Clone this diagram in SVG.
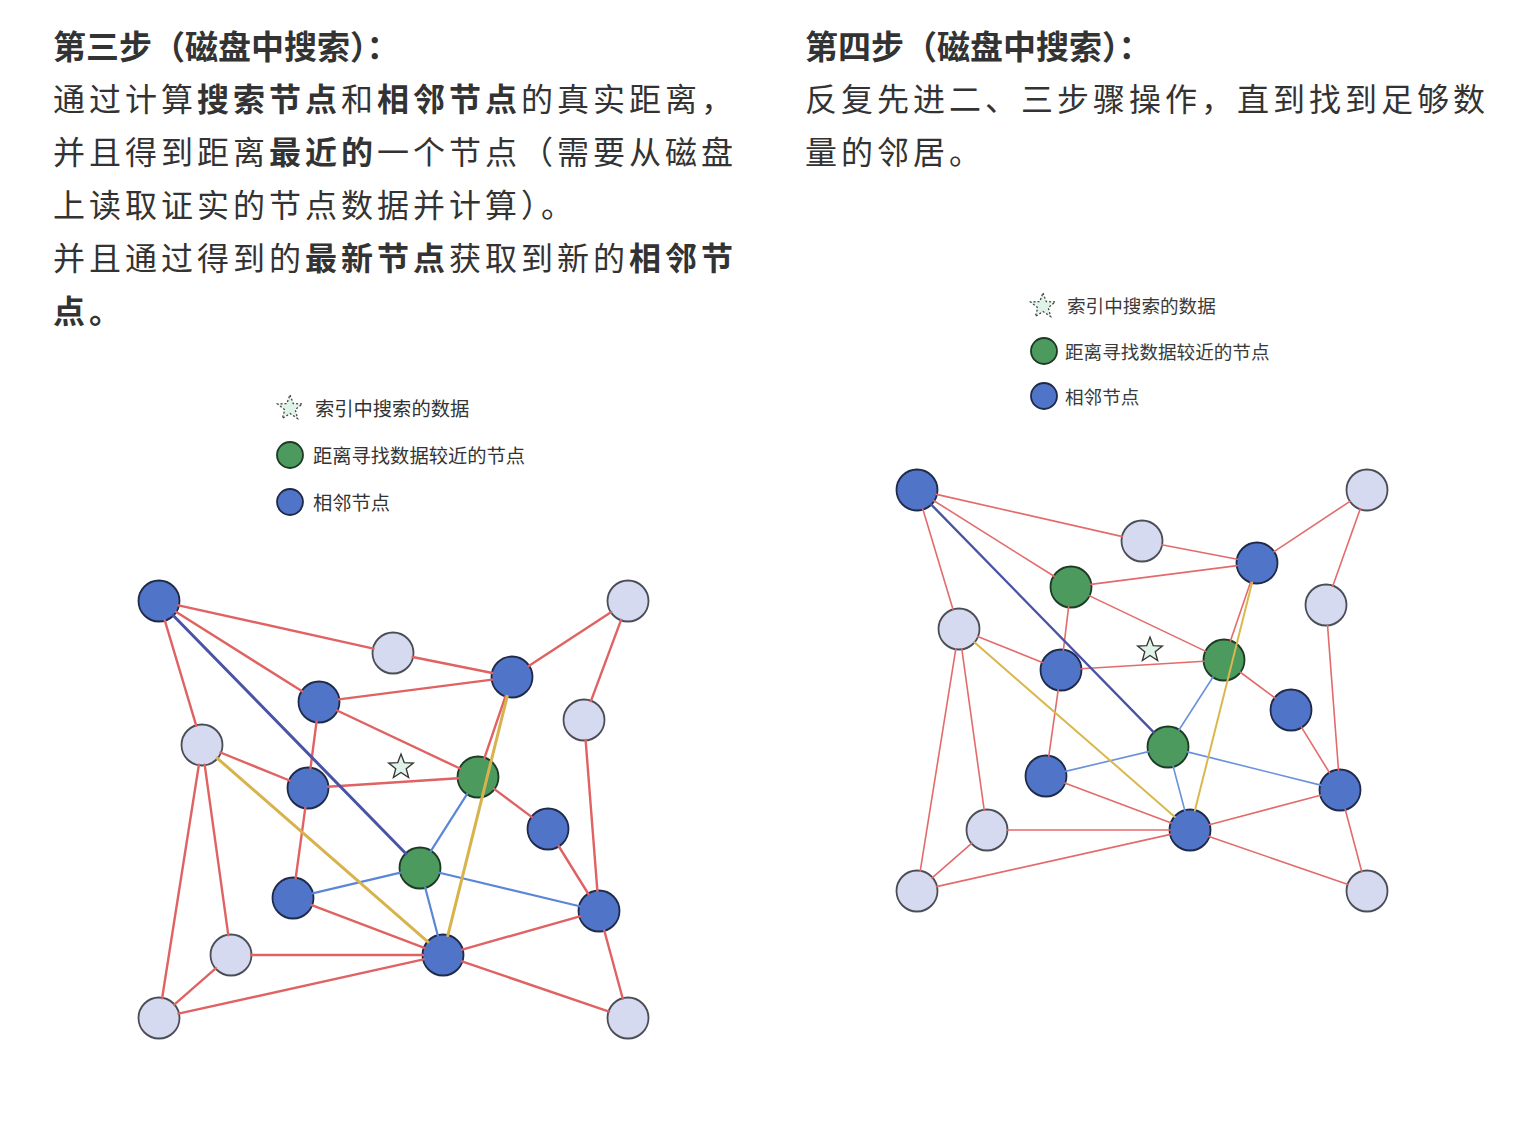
<svg xmlns="http://www.w3.org/2000/svg" width="1515" height="1126" viewBox="0 0 1515 1126">
<style>
.t{font-family:"Noto Sans CJK SC","Noto Sans",sans-serif;fill:#333}
.h{font-size:33px;font-weight:bold}
.b{font-size:32px;letter-spacing:4px}
.b tspan.k{font-weight:bold}
.lg{font-family:"Noto Sans CJK SC","Noto Sans",sans-serif;fill:#333;font-size:19.3px}
.lr{font-family:"Noto Sans CJK SC","Noto Sans",sans-serif;fill:#3a3a3a;font-size:18.6px}
.nb{fill:#4f74c8;stroke:#1e2a48;stroke-width:1.8}
.nl{fill:#d5daf0;stroke:#4a4d55;stroke-width:1.8}
.ng{fill:#4c9a5e;stroke:#1d3a25;stroke-width:1.8}
.st{fill:#e0f3e8;stroke:#333;stroke-width:1.3}
.sd{fill:#e0f3e8;stroke:#444;stroke-width:1.3;stroke-dasharray:2 2}
.L .r{stroke:#e06262;stroke-width:2.4}
.L .u{stroke:#5a86d8;stroke-width:2.2}
.L .n{stroke:#4a54a4;stroke-width:3}
.L .y{stroke:#d8b24c;stroke-width:3}
.R .r{stroke:#e36b6b;stroke-width:1.6}
.R .u{stroke:#6a92dc;stroke-width:1.6}
.R .n{stroke:#4a54a4;stroke-width:2.4}
.R .y{stroke:#d9b84e;stroke-width:2}
line{fill:none;stroke-linecap:round}
</style>
<defs>
<path id="star" d="M0,-13 L3.23,-4.45 L12.36,-4.02 L5.23,1.7 L7.64,10.52 L0,5.5 L-7.64,10.52 L-5.23,1.7 L-12.36,-4.02 L-3.23,-4.45 Z"/>
</defs>
<rect width="1515" height="1126" fill="#ffffff"/>

<g id="text-left">
<text class="t h" x="53" y="59">第三步（磁盘中搜索）：</text>
<text class="t b" x="53" y="111">通过计算<tspan class="k">搜索节点</tspan>和<tspan class="k">相邻节点</tspan>的真实距离，</text>
<text class="t b" x="53" y="164">并且得到距离<tspan class="k">最近的</tspan>一个节点（需要从磁盘</text>
<text class="t b" x="53" y="217">上读取证实的节点数据并计算）。</text>
<text class="t b" x="53" y="270">并且通过得到的<tspan class="k">最新节点</tspan>获取到新的<tspan class="k">相邻节</tspan></text>
<text class="t b" x="53" y="323"><tspan class="k">点。</tspan></text>
</g>
<g id="text-right">
<text class="t h" x="805" y="59">第四步（磁盘中搜索）：</text>
<text class="t b" x="805" y="111">反复先进二、三步骤操作，直到找到足够数</text>
<text class="t b" x="805" y="164">量的邻居。</text>
</g>

<g id="legend-left">
<use href="#star" class="sd" transform="translate(290,408)"/>
<text class="lg" x="315" y="416">索引中搜索的数据</text>
<circle class="ng" cx="290" cy="455" r="13"/>
<text class="lg" x="313" y="463">距离寻找数据较近的节点</text>
<circle class="nb" cx="290" cy="502" r="13"/>
<text class="lg" x="313" y="510">相邻节点</text>
</g>
<g id="legend-right">
<use href="#star" class="sd" transform="translate(1043,306)"/>
<text class="lr" x="1067" y="313">索引中搜索的数据</text>
<circle class="ng" cx="1044" cy="351" r="13"/>
<text class="lr" x="1065" y="359">距离寻找数据较近的节点</text>
<circle class="nb" cx="1044" cy="396" r="13"/>
<text class="lr" x="1065" y="404">相邻节点</text>
</g>

<g id="nodes-left">
<g id="L-A"><circle class="nb" cx="159" cy="601" r="20.5"/></g>
<g id="L-B"><circle class="nl" cx="628" cy="601" r="20.5"/></g>
<g id="L-C"><circle class="nl" cx="393" cy="653" r="20.5"/></g>
<g id="L-D"><circle class="nb" cx="512" cy="677" r="20.5"/></g>
<g id="L-E"><circle class="nb" cx="319" cy="702" r="20.5"/></g>
<g id="L-F"><circle class="nl" cx="584" cy="720" r="20.5"/></g>
<g id="L-G"><circle class="nl" cx="202" cy="745" r="20.5"/></g>
<g id="L-H"><circle class="nb" cx="308" cy="788" r="20.5"/></g>
<g id="L-I"><circle class="ng" cx="478" cy="777" r="20.5"/></g>
<g id="L-J"><circle class="nb" cx="548" cy="829" r="20.5"/></g>
<g id="L-K"><circle class="ng" cx="420" cy="868" r="20.5"/></g>
<g id="L-L"><circle class="nb" cx="293" cy="898" r="20.5"/></g>
<g id="L-M"><circle class="nb" cx="599" cy="911" r="20.5"/></g>
<g id="L-N"><circle class="nl" cx="231" cy="955" r="20.5"/></g>
<g id="L-O"><circle class="nb" cx="443" cy="955" r="20.5"/></g>
<g id="L-P"><circle class="nl" cx="159" cy="1018" r="20.5"/></g>
<g id="L-Q"><circle class="nl" cx="628" cy="1018" r="20.5"/></g>
<g id="L-star"><use href="#star" class="st" transform="translate(401,767)"/></g>
</g>

<g id="nodes-right">
<g id="R-A"><circle class="nb" cx="917" cy="490" r="20.5"/></g>
<g id="R-B"><circle class="nl" cx="1367" cy="490" r="20.5"/></g>
<g id="R-C"><circle class="nl" cx="1142" cy="541" r="20.5"/></g>
<g id="R-D"><circle class="nb" cx="1257" cy="563" r="20.5"/></g>
<g id="R-E"><circle class="ng" cx="1071" cy="587" r="20.5"/></g>
<g id="R-F"><circle class="nl" cx="1326" cy="605" r="20.5"/></g>
<g id="R-G"><circle class="nl" cx="959" cy="629" r="20.5"/></g>
<g id="R-H"><circle class="nb" cx="1061" cy="670" r="20.5"/></g>
<g id="R-I"><circle class="ng" cx="1224" cy="660" r="20.5"/></g>
<g id="R-J"><circle class="nb" cx="1291" cy="710" r="20.5"/></g>
<g id="R-K"><circle class="ng" cx="1168" cy="747" r="20.5"/></g>
<g id="R-L"><circle class="nb" cx="1046" cy="776" r="20.5"/></g>
<g id="R-M"><circle class="nb" cx="1340" cy="790" r="20.5"/></g>
<g id="R-N"><circle class="nl" cx="987" cy="830" r="20.5"/></g>
<g id="R-O"><circle class="nb" cx="1190" cy="830" r="20.5"/></g>
<g id="R-P"><circle class="nl" cx="917" cy="891" r="20.5"/></g>
<g id="R-Q"><circle class="nl" cx="1367" cy="891" r="20.5"/></g>
<g id="R-star"><use href="#star" class="st" transform="translate(1150,650)"/></g>
</g>

<g id="connectors">
<g class="L">
<line class="r" x1="178.5" y1="605.3" x2="373.5" y2="648.7"/>
<line class="r" x1="412.6" y1="657" x2="492.4" y2="673"/>
<line class="r" x1="175.9" y1="611.7" x2="302.1" y2="691.3"/>
<line class="r" x1="164.7" y1="620.2" x2="196.3" y2="725.8"/>
<line class="r" x1="338.8" y1="699.4" x2="492.2" y2="679.6"/>
<line class="r" x1="337.1" y1="710.5" x2="459.9" y2="768.5"/>
<line class="r" x1="505.6" y1="695.9" x2="484.4" y2="758.1"/>
<line class="r" x1="528.7" y1="666" x2="611.3" y2="612"/>
<line class="r" x1="621.1" y1="619.8" x2="590.9" y2="701.2"/>
<line class="r" x1="585.6" y1="739.9" x2="597.4" y2="891.1"/>
<line class="r" x1="316.5" y1="721.8" x2="310.5" y2="768.2"/>
<line class="r" x1="220.5" y1="752.5" x2="289.5" y2="780.5"/>
<line class="r" x1="328" y1="786.7" x2="458" y2="778.3"/>
<line class="r" x1="494.1" y1="788.9" x2="531.9" y2="817.1"/>
<line class="r" x1="558.6" y1="846" x2="588.4" y2="894"/>
<line class="r" x1="305.3" y1="807.8" x2="295.7" y2="878.2"/>
<line class="r" x1="198.9" y1="764.8" x2="162.1" y2="998.2"/>
<line class="r" x1="204.7" y1="764.8" x2="228.3" y2="935.2"/>
<line class="r" x1="311.7" y1="905.1" x2="424.3" y2="947.9"/>
<line class="r" x1="251" y1="955" x2="423" y2="955"/>
<line class="r" x1="178.5" y1="1013.7" x2="423.5" y2="959.3"/>
<line class="r" x1="174" y1="1004.8" x2="216" y2="968.2"/>
<line class="r" x1="462.2" y1="949.6" x2="579.8" y2="916.4"/>
<line class="r" x1="461.9" y1="961.4" x2="609.1" y2="1011.6"/>
<line class="r" x1="604.2" y1="930.3" x2="622.8" y2="998.7"/>
<line class="u" x1="430.8" y1="851.1" x2="467.2" y2="793.9"/>
<line class="u" x1="400.5" y1="872.6" x2="312.5" y2="893.4"/>
<line class="u" x1="439.4" y1="872.7" x2="579.6" y2="906.3"/>
<line class="u" x1="425.1" y1="887.3" x2="437.9" y2="935.7"/>
<line class="n" x1="173" y1="615.3" x2="406" y2="853.7"/>
<line class="y" x1="217.1" y1="758.1" x2="427.9" y2="941.9"/>
<line class="y" x1="507.2" y1="696.4" x2="447.8" y2="935.6"/>
</g>
<g class="R">
<line class="r" x1="936.5" y1="494.4" x2="1122.5" y2="536.6"/>
<line class="r" x1="1161.6" y1="544.8" x2="1237.4" y2="559.2"/>
<line class="r" x1="933.9" y1="500.7" x2="1054.1" y2="576.3"/>
<line class="r" x1="922.8" y1="509.1" x2="953.2" y2="609.9"/>
<line class="r" x1="1090.8" y1="584.4" x2="1237.2" y2="565.6"/>
<line class="r" x1="1089.1" y1="595.6" x2="1205.9" y2="651.4"/>
<line class="r" x1="1250.6" y1="581.9" x2="1230.4" y2="641.1"/>
<line class="r" x1="1273.7" y1="551.9" x2="1350.3" y2="501.1"/>
<line class="r" x1="1360.3" y1="508.8" x2="1332.7" y2="586.2"/>
<line class="r" x1="1327.5" y1="624.9" x2="1338.5" y2="770.1"/>
<line class="r" x1="1068.6" y1="606.9" x2="1063.4" y2="650.1"/>
<line class="r" x1="977.6" y1="636.5" x2="1042.4" y2="662.5"/>
<line class="r" x1="1081" y1="668.8" x2="1204" y2="661.2"/>
<line class="r" x1="1240" y1="672" x2="1275" y2="698"/>
<line class="r" x1="1301.4" y1="727.1" x2="1329.6" y2="772.9"/>
<line class="r" x1="1058.2" y1="689.8" x2="1048.8" y2="756.2"/>
<line class="r" x1="955.8" y1="648.8" x2="920.2" y2="871.2"/>
<line class="r" x1="961.8" y1="648.8" x2="984.2" y2="810.2"/>
<line class="r" x1="1064.7" y1="783" x2="1171.3" y2="823"/>
<line class="r" x1="1007" y1="830" x2="1170" y2="830"/>
<line class="r" x1="936.5" y1="886.6" x2="1170.5" y2="834.4"/>
<line class="r" x1="932.1" y1="877.9" x2="971.9" y2="843.1"/>
<line class="r" x1="1209.3" y1="824.8" x2="1320.7" y2="795.2"/>
<line class="r" x1="1208.9" y1="836.5" x2="1348.1" y2="884.5"/>
<line class="r" x1="1345.2" y1="809.3" x2="1361.8" y2="871.7"/>
<line class="u" x1="1178.8" y1="730.2" x2="1213.2" y2="676.8"/>
<line class="u" x1="1148.5" y1="751.6" x2="1065.5" y2="771.4"/>
<line class="u" x1="1187.4" y1="751.9" x2="1320.6" y2="785.1"/>
<line class="u" x1="1173.1" y1="766.3" x2="1184.9" y2="810.7"/>
<line class="n" x1="931" y1="504.3" x2="1154" y2="732.7"/>
<line class="y" x1="974.1" y1="642.1" x2="1174.9" y2="816.9"/>
<line class="y" x1="1252.1" y1="582.4" x2="1194.9" y2="810.6"/>
</g>
</g>
</svg>
